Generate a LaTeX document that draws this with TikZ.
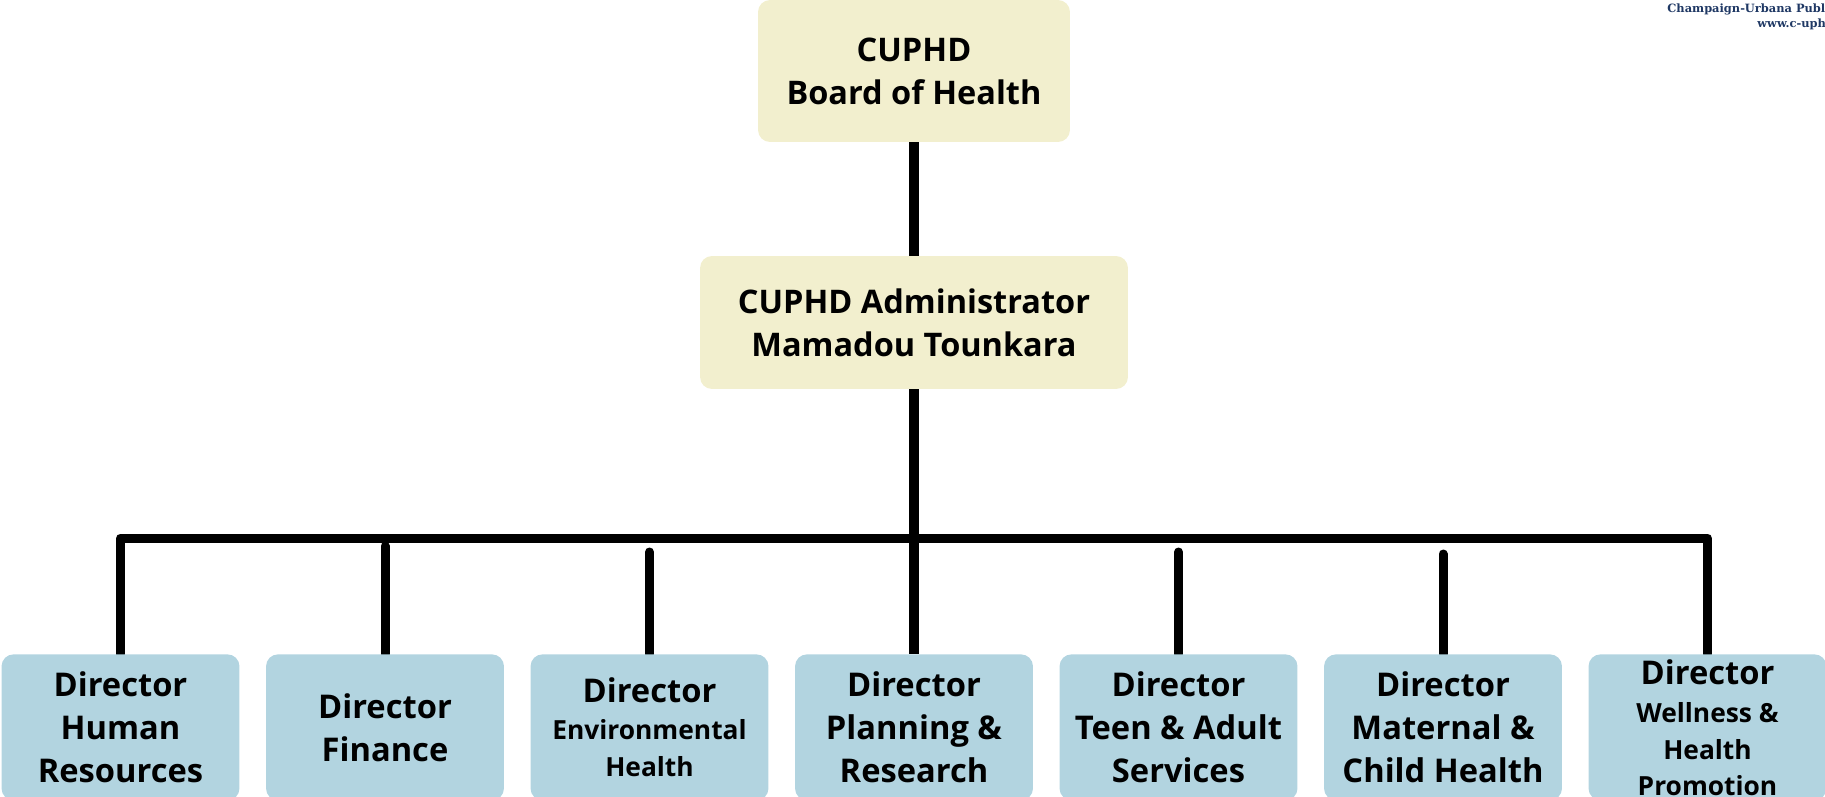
\documentclass[tikz,border=0pt]{standalone}
\usepackage{fontspec}
\setsansfont{Open Sans}
\newfontfamily\logofont{DejaVu Serif}
\usetikzlibrary{positioning, backgrounds}

\definecolor{boardfill}{RGB}{242,239,206}
\definecolor{dirfill}{RGB}{178,212,224}
\definecolor{logoblue}{RGB}{31,56,100}

\newcommand{\sm}{\fontsize{15}{20}\selectfont}

\tikzset{
    topbox/.style={fill=boardfill, rounded corners=0.24cm, align=center,
        font=\sffamily\bfseries\fontsize{18.5}{24.5}\selectfont},
    dirbox/.style={fill=dirfill, rounded corners=0.24cm, align=center,
        minimum width=4.76cm, minimum height=2.92cm, anchor=north,
        font=\sffamily\bfseries\fontsize{18.6}{24.5}\selectfont},
    trunk/.style={line width=0.2cm},
    link/.style={line width=0.18cm, line cap=round, line join=round},
    logo/.style={text=logoblue, anchor=west, inner sep=0pt,
        font=\logofont\bfseries\fontsize{6.5}{8}\selectfont},
}

\begin{document}
\begin{tikzpicture}[x=0.02cm, y=-0.02cm]
    \useasboundingbox (0,0) rectangle (1825,797);
    \clip (0,0) rectangle (1825,797);

    % header text, cut at the edge
    \node[logo] (logo1) at (1667,9) {Champaign-Urbana Public};
    \node[logo] (logo2) at (1757,24) {www.c-uphd.org};

    % top of the chart
    \node[topbox, minimum width=6.24cm, minimum height=2.84cm] (board) at (914,71)
        {CUPHD\\Board of Health};
    \node[topbox, minimum width=8.56cm, minimum height=2.66cm] (admin) at (914,322.5)
        {CUPHD Administrator\\Mamadou Tounkara};

    % directors
    \foreach \i/\t in {1/{Director\\Human\\Resources},
                       2/{Director\\Finance},
                       3/{Director\\[-3.5pt]\sm Environmental\\[-3.5pt]\sm Health},
                       4/{Director\\Planning \&\\Research},
                       5/{Director\\Teen \& Adult\\Services},
                       6/{Director\\Maternal \&\\Child Health}} {
        \node[dirbox] (d\i) at ({914+(\i-4)*264.5},654) {\t};
    }
    \node[dirbox, inner ysep=1pt] (d7) at (1707.5,654)
        {Director\\[-2.8pt]\sm Wellness \&\\[-3.4pt]\sm Health\\[-4pt]\sm Promotion};

    \coordinate (barL) at (d1.north |- 0,538);
    \coordinate (barR) at (d7.north |- 0,538);

    \begin{scope}[on background layer]
        \draw[trunk] (board.south) -- (admin.north);
        \draw[trunk] (admin.south) -- (d4.north);
        \draw[link] (d1.north) -- (barL) -- (barR) -- (d7.north);
        \foreach \i/\y in {2/546,3/552,5/552,6/554} {
            \coordinate (j\i) at (d\i.north |- 0,\y);
            \draw[link] (j\i) -- (d\i.north);
        }
    \end{scope}
\end{tikzpicture}
\end{document}
